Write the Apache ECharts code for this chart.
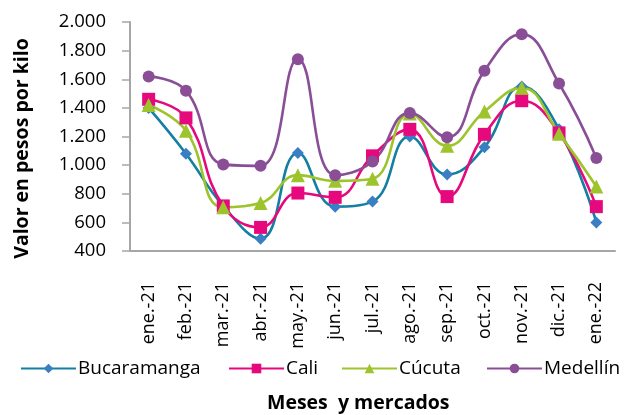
<!DOCTYPE html>
<html>
<head>
<meta charset="utf-8">
<script src="https://cdn.jsdelivr.net/npm/echarts@6/dist/echarts.min.js"></script>
<style>
  html, body { margin: 0; padding: 0; background: #fff; }
  #chart { width: 629px; height: 415px; }
</style>
</head>
<body>
<div id="chart"></div>
<script>
const months = ['ene.-21', 'feb.-21', 'mar.-21', 'abr.-21', 'may.-21', 'jun.-21', 'jul.-21',
  'ago.-21', 'sep.-21', 'oct.-21', 'nov.-21', 'dic.-21', 'ene.-22'];

const markets = ['Bucaramanga', 'Cali', 'Cúcuta', 'Medellín'];

const bucaramanga = [1400, 1080, 715, 485, 1085, 710, 745, 1200, 935, 1125, 1550, 1250, 600];
const cali = [1460, 1330, 715, 565, 805, 775, 1065, 1250, 780, 1215, 1450, 1225, 710];
const cucuta = [1420, 1240, 705, 735, 930, 890, 905, 1360, 1135, 1375, 1540, 1220, 850];
const medellin = [1620, 1520, 1005, 995, 1740, 930, 1025, 1365, 1195, 1660, 1915, 1570, 1050];

const yTicks = [400, 600, 800, 1000, 1200, 1400, 1600, 1800, 2000];

const chartDom = document.getElementById('chart');
const myChart = echarts.init(chartDom, null, { renderer: 'canvas' });

const font = '"Open Sans", sans-serif';

function fmt(v) {
  return String(v).replace(/\B(?=(\d{3})+(?!\d))/g, '.');
}

function makeSeries(name, data, lineColor, markColor, symbol, size) {
  return {
    name: name,
    type: 'line',
    data: data,
    smooth: 0.45,
    symbol: symbol,
    symbolSize: size,
    lineStyle: { color: lineColor, width: 2.6 },
    itemStyle: { color: markColor, borderColor: markColor, borderWidth: 0 },
    emphasis: { disabled: true }
  };
}

// one legend per market so each entry sits where the original puts it
const legendLeft = [20, 228, 341, 486];
const legends = markets.map(function (m, i) {
  return {
    top: 359,
    left: legendLeft[i],
    padding: 0,
    itemWidth: 55,
    itemHeight: 12,
    textStyle: { fontSize: 19, fontFamily: font, color: '#000', padding: [0, 0, 0, -3] },
    data: [m]
  };
});

const option = {
  animation: false,
  backgroundColor: '#ffffff',
  textStyle: { fontFamily: font, color: '#000' },
  title: {
    text: 'Meses  y mercados',
    left: 267,
    top: 393,
    padding: 0,
    textStyle: { fontSize: 19.5, fontWeight: 'bold', fontFamily: font, color: '#000' }
  },
  grid: { left: 130, right: 14, top: 22, bottom: 164, outerBoundsMode: 'none' },
  legend: legends,
  xAxis: {
    type: 'category',
    data: months,
    boundaryGap: true,
    axisLine: { lineStyle: { color: '#a6a6a6', width: 2 } },
    axisTick: { show: false },
    axisLabel: { rotate: 90, fontSize: 18, fontFamily: font, color: '#000', margin: 31, interval: 0 }
  },
  yAxis: {
    type: 'value',
    min: 400,
    max: 2000,
    interval: 200,
    name: 'Valor en pesos por kilo',
    nameLocation: 'middle',
    nameGap: 98,
    nameTextStyle: {
      fontSize: 19.5, fontWeight: 'bold', fontFamily: font, color: '#000',
      padding: [0, 24, 0, 0]
    },
    axisLine: { show: true, lineStyle: { color: '#a6a6a6', width: 2 } },
    axisTick: { show: true, length: 8, lineStyle: { color: '#a6a6a6', width: 1.5 } },
    splitLine: { show: false },
    axisLabel: {
      fontSize: 18.5, fontFamily: font, color: '#000', margin: 24,
      formatter: function (v) { return yTicks.includes(v) ? fmt(v) : ''; }
    }
  },
  series: [
    makeSeries(markets[0], bucaramanga, '#137fa3', '#3a7fc4', 'diamond', 12),
    makeSeries(markets[1], cali, '#e6097e', '#e6097e', 'rect', 13),
    makeSeries(markets[2], cucuta, '#9dc42c', '#9dc42c', 'triangle', 14),
    makeSeries(markets[3], medellin, '#8a4e97', '#8a4e97', 'circle', 12)
  ]
};

myChart.setOption(option);
</script>
</body>
</html>
